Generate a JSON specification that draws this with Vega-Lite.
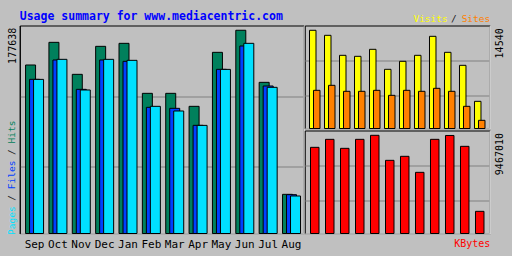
{
  "$schema": "https://vega.github.io/schema/vega-lite/v6.json",
  "background": "#c0c0c0",
  "padding": {"left": 5.75, "top": 9.5, "right": 7, "bottom": 7},
  "autosize": {"type": "pad"},
  "config": {
    "view": {"stroke": "black", "strokeWidth": 1, "fill": "#c0c0c0"},
    "axis": {"labelFont": "DejaVu Sans Mono", "titleFont": "DejaVu Sans Mono", "titleFontWeight": "normal", "labelColor": "black"}
  },
  "datasets": {
    "usage": [
      {"month": "Sep", "hits": 147276, "files": 134750, "pages": 134700, "visits": 14540, "sites": 5652, "kbytes": 8307000},
      {"month": "Oct", "hits": 167089, "files": 151646, "pages": 152229, "visits": 13796, "sites": 6392, "kbytes": 9078000},
      {"month": "Nov", "hits": 139120, "files": 126010, "pages": 125425, "visits": 10834, "sites": 5504, "kbytes": 8211000},
      {"month": "Dec", "hits": 163593, "files": 151646, "pages": 152229, "visits": 10686, "sites": 5504, "kbytes": 9078000},
      {"month": "Jan", "hits": 166216, "files": 150484, "pages": 151357, "visits": 11723, "sites": 5652, "kbytes": 9467010},
      {"month": "Feb", "hits": 122513, "files": 110277, "pages": 111151, "visits": 8761, "sites": 4911, "kbytes": 7054000},
      {"month": "Mar", "hits": 122513, "files": 109403, "pages": 107070, "visits": 9946, "sites": 5652, "kbytes": 7440000},
      {"month": "Apr", "hits": 111151, "files": 94545, "pages": 94500, "visits": 10834, "sites": 5504, "kbytes": 5897000},
      {"month": "May", "hits": 158349, "files": 143490, "pages": 143450, "visits": 13648, "sites": 5948, "kbytes": 9078000},
      {"month": "Jun", "hits": 177638, "files": 163883, "pages": 166216, "visits": 11278, "sites": 5504, "kbytes": 9450000},
      {"month": "Jul", "hits": 132128, "files": 128921, "pages": 127759, "visits": 9354, "sites": 3283, "kbytes": 8404000},
      {"month": "Aug", "hits": 34236, "files": 33939, "pages": 32777, "visits": 4023, "sites": 1210, "kbytes": 2137000}
    ]
  },
  "data": {"name": "usage"},
  "bounds": "flush",
  "spacing": 1,
  "hconcat": [
    {
      "width": 284,
      "height": 208,
      "title": {"text": "Usage summary for www.mediacentric.com", "anchor": "start", "frame": "group", "font": "DejaVu Sans Mono", "fontWeight": "bold", "fontSize": 11.5, "color": "#0000ff", "baseline": "alphabetic", "offset": -5.8},
      "encoding": {
        "x": {
          "field": "month", "type": "nominal", "sort": null,
          "scale": {"type": "band", "paddingInner": 0, "paddingOuter": 0.079, "align": 0.85},
          "axis": {"orient": "bottom", "domain": true, "domainColor": "white", "ticks": false, "tickSize": 0, "labelAngle": 0, "labelOverlap": false, "labelFontSize": 11, "labelBaseline": "alphabetic", "labelPadding": 13.5,
            "title": "/\u00a0\u00a0\u00a0\u00a0\u00a0\u00a0\u00a0/", "titleColor": "#202020", "titleFontSize": 9.5, "titleAngle": -90, "titleAlign": "left", "titleBaseline": "middle", "titleX": -8.5, "titleY": -33.3}
        }
      },
      "layer": [
        {
          "mark": {"type": "bar", "width": 10, "xOffset": -4, "fill": "#00805c", "stroke": "black", "strokeWidth": 1},
          "encoding": {"y": {"field": "hits", "type": "quantitative", "scale": {"domain": [0, 181800], "nice": false, "zero": true},
            "axis": {"orient": "left", "values": [177638], "format": "d", "grid": false, "domain": true, "domainColor": "black", "ticks": false, "tickSize": 0, "labelAngle": -90, "labelAlign": "right", "labelBaseline": "middle", "labelPadding": 7, "labelOffset": -3, "labelFontSize": 10, "labelOverlap": false,
              "title": "Hits", "titleColor": "#00805c", "titleFontSize": 9.5, "titleAngle": -90, "titleAlign": "left", "titleBaseline": "middle", "titleX": -8.5, "titleY": 117.5}}}
        },
        {
          "mark": {"type": "bar", "width": 10, "xOffset": 0, "fill": "#0040ff", "stroke": "black", "strokeWidth": 1},
          "encoding": {"y": {"field": "files", "type": "quantitative", "scale": {"domain": [0, 181800], "nice": false, "zero": true},
            "axis": {"orient": "left", "values": [58800, 120000], "grid": true, "gridColor": "#808080", "gridWidth": 1, "labels": false, "ticks": false, "domain": false,
              "title": "Files", "titleColor": "#0040ff", "titleFontSize": 9.5, "titleAngle": -90, "titleAlign": "left", "titleBaseline": "middle", "titleX": -8.5, "titleY": 163.25}}}
        },
        {
          "mark": {"type": "bar", "width": 10, "xOffset": 4, "fill": "#00e0ff", "stroke": "black", "strokeWidth": 1},
          "encoding": {"y": {"field": "pages", "type": "quantitative", "scale": {"domain": [0, 181800], "nice": false, "zero": true},
            "axis": {"orient": "right", "grid": false, "labels": false, "ticks": false, "domain": true, "domainColor": "white",
              "title": "Pages", "titleColor": "#00e0ff", "titleFontSize": 9.5, "titleAngle": -90, "titleAlign": "left", "titleBaseline": "middle", "titleX": -292.5, "titleY": 209}}}
        }
      ],
      "resolve": {"axis": {"y": "independent"}}
    },
    {
      "bounds": "flush",
      "spacing": 2,
      "vconcat": [
        {
          "width": 185,
          "height": 103,
          "encoding": {
            "x": {
              "field": "month", "type": "nominal", "sort": null,
              "scale": {"type": "band", "paddingInner": 0, "paddingOuter": 0.167, "align": 0.5},
              "axis": {"orient": "bottom", "labels": false, "ticks": false, "tickSize": 0, "domain": true, "domainColor": "white",
                "title": "/", "titleColor": "#202020", "titleFontSize": 9.5, "titleAngle": 0, "titleAlign": "right", "titleBaseline": "alphabetic", "titleX": 151.5, "titleY": -107.5}
            }
          },
          "layer": [
            {
              "mark": {"type": "bar", "width": 6.5, "xOffset": -2, "fill": "#ffff00", "stroke": "black", "strokeWidth": 1},
              "encoding": {"y": {"field": "visits", "type": "quantitative", "scale": {"domain": [0, 15250], "nice": false, "zero": true},
                "axis": {"orient": "right", "values": [14540], "format": "d", "grid": false, "domain": true, "domainColor": "white", "ticks": false, "tickSize": 0, "labelAngle": -90, "labelAlign": "right", "labelBaseline": "middle", "labelPadding": 9.5, "labelOffset": -2.5, "labelFontSize": 10, "labelOverlap": false,
                  "title": "Visits", "titleColor": "#ffff00", "titleFontSize": 9.5, "titleAngle": 0, "titleAlign": "right", "titleBaseline": "alphabetic", "titleX": -42.5, "titleY": -4.5}}}
            },
            {
              "mark": {"type": "bar", "width": 6.5, "xOffset": 2, "fill": "#ff8000", "stroke": "black", "strokeWidth": 1},
              "encoding": {"y": {"field": "sites", "type": "quantitative", "scale": {"domain": [0, 15250], "nice": false, "zero": true},
                "axis": {"orient": "left", "values": [4850, 10000], "grid": true, "gridColor": "#808080", "labels": false, "ticks": false, "domain": false,
                  "title": "Sites", "titleColor": "#ff8000", "titleFontSize": 9.5, "titleAngle": 0, "titleAlign": "right", "titleBaseline": "alphabetic", "titleX": 185, "titleY": -4.5}}}
            }
          ],
          "resolve": {"axis": {"y": "independent"}}
        },
        {
          "width": 185,
          "height": 103,
          "mark": {"type": "bar", "width": 8.5, "fill": "#ff0000", "stroke": "black", "strokeWidth": 1},
          "encoding": {
            "x": {
              "field": "month", "type": "nominal", "sort": null,
              "scale": {"type": "band", "paddingInner": 0, "paddingOuter": 0.167, "align": 0.5},
              "axis": {"orient": "bottom", "labels": false, "ticks": false, "tickSize": 0, "domain": true, "domainColor": "white",
                "title": "KBytes", "titleColor": "#ff0000", "titleFontSize": 10, "titleAngle": 0, "titleAlign": "right", "titleBaseline": "alphabetic", "titleX": 185, "titleY": 12.5}
            },
            "y": {
              "field": "kbytes", "type": "quantitative", "scale": {"domain": [0, 9930000], "nice": false, "zero": true},
              "axis": {"orient": "right", "values": [3152000, 6527000, 9467010], "format": "d", "grid": true, "gridColor": "#808080",
                "gridOpacity": {"condition": {"test": "datum.value > 9000000", "value": 0}, "value": 1},
                "labelExpr": "datum.value > 9000000 ? datum.label : ''",
                "domain": true, "domainColor": "white", "ticks": false, "tickSize": 0, "labelAngle": -90, "labelAlign": "right", "labelBaseline": "middle", "labelPadding": 9.5, "labelOffset": -2.8, "labelFontSize": 10, "labelOverlap": false,
                "title": null}
            }
          }
        }
      ]
    }
  ]
}
